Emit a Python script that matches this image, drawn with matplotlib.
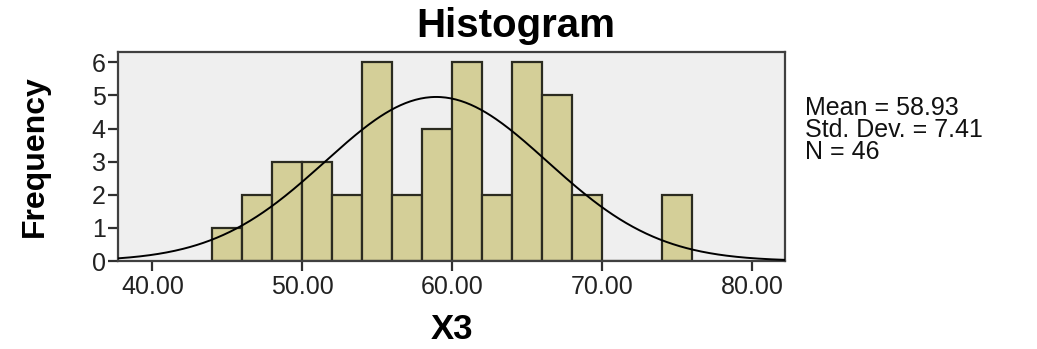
import numpy as np
import matplotlib.pyplot as plt

# Histogram data (bin left edges, width 2)
bin_left = [44, 46, 48, 50, 52, 54, 56, 58, 60, 62, 64, 66, 68, 70, 72, 74]
counts = [1, 2, 3, 3, 2, 6, 2, 4, 6, 2, 6, 5, 2, 0, 0, 2]
bin_width = 2

mean = 58.93
std_dev = 7.41
n = 46

x_ticks = [40, 50, 60, 70, 80]
x_tick_labels = ["40.00", "50.00", "60.00", "70.00", "80.00"]
y_ticks = [0, 1, 2, 3, 4, 5, 6]

plt.rcParams['font.family'] = ['Liberation Sans', 'DejaVu Sans']

fig = plt.figure(figsize=(10.37, 3.49), dpi=100)
ax = fig.add_axes([0.1138, 0.252, 0.6432, 0.599])
ax.set_facecolor('#efefef')

ax.bar(bin_left, counts, width=bin_width, align='edge',
       color='#d4cf98', edgecolor='#2b2b20', linewidth=1.6, zorder=2)

# Normal curve scaled to counts
xs = np.linspace(37.7, 82.2, 400)
pdf = np.exp(-0.5 * ((xs - mean) / std_dev) ** 2) / (std_dev * np.sqrt(2 * np.pi))
ax.plot(xs, pdf * n * bin_width, color='black', linewidth=1.4, zorder=3)

ax.set_xlim(37.7, 82.2)
ax.set_ylim(0, 6.31)
ax.set_xticks(x_ticks)
ax.set_xticklabels(x_tick_labels)
ax.set_yticks(y_ticks)
ax.tick_params(axis='both', labelsize=18, length=7, width=1.6, color='#303030',
               labelcolor='#222222')
ax.tick_params(axis='x', pad=3)
ax.tick_params(axis='y', pad=2)

for s in ax.spines.values():
    s.set_color('#404040')
    s.set_linewidth(1.6)

fig.text(0.497, 0.925, "Histogram", ha='center', va='center',
         fontsize=29, fontweight='bold')
ax.set_xlabel("X3", fontsize=25, fontweight='bold', labelpad=10)
ax.set_ylabel("Frequency", fontsize=23, fontweight='bold', labelpad=30)

stats = f"Mean = {mean:.2f}\nStd. Dev. = {std_dev:.2f}\nN = {n}"
fig.text(0.776, 0.725, stats, ha='left', va='top', fontsize=18,
         linespacing=0.9, color='#111111')

fig.savefig("out.png", dpi=100)
